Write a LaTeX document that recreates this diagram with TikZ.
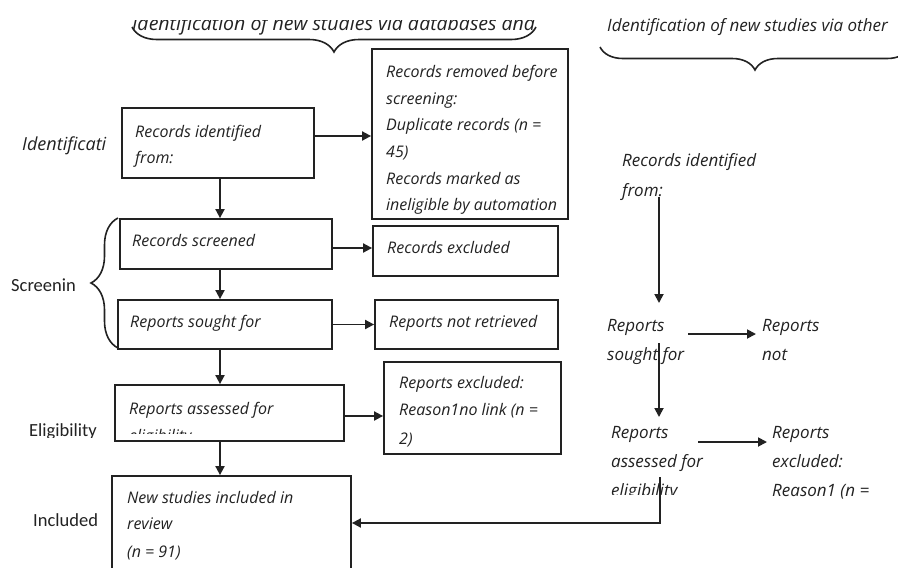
\documentclass[tikz,border=0pt]{standalone}
\usepackage{fontspec}
\usetikzlibrary{arrows.meta,decorations.pathreplacing,calc}
\newfontfamily\hand{Open Sans}
\newfontfamily\labfont{Carlito}
\definecolor{ink}{HTML}{222222}
\begin{document}
\begin{tikzpicture}[x=1pt,y=-1pt,
  box/.style={draw=ink,line width=1.8pt,inner sep=0pt},
  arr/.style={draw=ink,line width=1.8pt,-{Triangle[length=9pt,width=9pt]}},
  txt/.style={anchor=base west,inner sep=0pt,text=ink,font=\hand\itshape\fontsize{16}{18}\selectfont},
  rtxt/.style={anchor=base west,inner sep=0pt,text=ink,font=\hand\itshape\fontsize{17}{19}\selectfont},
  lab/.style={anchor=base west,inner sep=0pt,text=ink,font=\labfont\fontsize{18.5}{20}\selectfont},
  brc/.style={draw=ink,line width=1.6pt,decorate}]
\useasboundingbox[fill=white] (0,0) rectangle (898,568);

% titles and braces
\begin{scope}
\clip (0,20) rectangle (898,60);
\node[txt,font=\hand\itshape\fontsize{19.5}{21}\selectfont] (t1) at (132,30) {Identification of new studies via databases and};
\end{scope}
\draw[brc,decoration={brace,amplitude=25pt}] (536,27) -- (132,27);
\node[txt,font=\hand\itshape\fontsize{17}{19}\selectfont] (t2) at (607,31) {Identification of new studies via other};
\draw[brc,decoration={brace,amplitude=23pt}] (910,47) -- (600,47);

% left labels
\node[txt,font=\hand\itshape\fontsize{18}{20}\selectfont] (l1) at (22,150) {Identificati};
\node[lab] (l2) at (11,291) {Screenin};
\begin{scope}
\clip (0,400) rectangle (110,437);
\node[lab] (l3) at (29,436) {Eligibility};
\end{scope}
\node[lab] (l4) at (33,526) {Included};
\draw[brc,decoration={brace,amplitude=27pt}] (118,348) -- (118,218);

% boxes
\node[box,minimum width=192pt,minimum height=70pt] (b1) at (218,143) {};
\node[box,minimum width=196pt,minimum height=170pt] (rem) at (470,134) {};
\node[box,minimum width=212pt,minimum height=50pt] (scr) at (226,244) {};
\node[box,minimum width=185pt,minimum height=50pt] (rex) at (465.5,251) {};
\node[box,minimum width=214pt,minimum height=49pt] (sou) at (225,324.5) {};
\node[box,minimum width=183pt,minimum height=49pt] (nre) at (466.5,324.5) {};
\node[box,minimum width=229pt,minimum height=56pt] (ass) at (229.5,413) {};
\node[box,minimum width=177pt,minimum height=92pt] (exc) at (472.5,408) {};
\node[box,minimum width=239pt,minimum height=124pt] (inc) at (231.5,538) {};

% box texts
\node[txt] (b1a) at (135,137) {Records identified};
\node[txt] (b1b) at (135,163) {from:};
\begin{scope}
\clip (372,49) rectangle (568,214);
\node[txt] (rm1) at (386,77) {Records removed before};
\node[txt] (rm2) at (386,104) {screening:};
\node[txt] (rm3) at (386,130) {Duplicate records (n =};
\node[txt] (rm4) at (386,157) {45)};
\node[txt] (rm5) at (386,184) {Records marked as};
\node[txt] (rm6) at (386,210) {ineligible by automation};
\end{scope}
\node[txt] (sc1) at (132,246) {Records screened};
\node[txt] (rx1) at (387,253) {Records excluded};
\node[txt] (so1) at (130,327) {Reports sought for};
\node[txt] (nr1) at (389,327) {Reports not retrieved};
\node[txt] (as1) at (129,414) {Reports assessed for};
\begin{scope}
\clip (116,420) rectangle (343,433);
\node[txt] (as2) at (129,441) {eligibility};
\end{scope}
\node[txt] (ex1) at (399,388) {Reports excluded:};
\node[txt] (ex2) at (399,415) {Reason1no link (n =};
\node[txt] (ex3) at (399,444) {2)};
\node[txt] (in1) at (127,503) {New studies included in};
\node[txt] (in2) at (127,529) {review};
\node[txt] (in3) at (127,557) {(n = 91)};

% right column texts
\node[rtxt] (r1a) at (622,166) {Records identified};
\node[rtxt] (r1b) at (622,196) {from:};
\node[rtxt] (r2a) at (607,331) {Reports};
\node[rtxt] (r2b) at (607,360) {sought for};
\node[rtxt] (r3a) at (762,331) {Reports};
\node[rtxt] (r3b) at (762,360) {not};
\node[rtxt] (r4a) at (611,438) {Reports};
\node[rtxt] (r4b) at (611,467) {assessed for};
\begin{scope}
\clip (600,470) rectangle (760,494);
\node[rtxt] (r4c) at (611,496) {eligibility};
\end{scope}
\node[rtxt] (r5a) at (772,438) {Reports};
\node[rtxt] (r5b) at (772,467) {excluded:};
\node[rtxt] (r5c) at (772,496) {Reason1 (n =};

% left connectors
\draw[arr] ([yshift=7pt]b1.east) -- ([yshift=7pt]b1.east -| rem.west);
\draw[arr] ([yshift=-4pt]scr.east) -- ([yshift=-4pt]scr.east -| rex.west);
\draw[arr] (sou.east) -- (sou.east -| nre.west);
\draw[arr] ([yshift=-3pt]ass.east) -- ([yshift=-3pt]ass.east -| exc.west);
\coordinate (cx) at (220,0);
\draw[arr] (cx |- b1.south) -- (cx |- scr.north);
\draw[arr] (cx |- scr.south) -- (cx |- sou.north);
\draw[arr] (cx |- sou.south) -- (cx |- ass.north);
\draw[arr] (cx |- ass.south) -- (cx |- inc.north);

% right connectors
\coordinate (ra) at (659,197);
\coordinate (rb) at (659,303);
\coordinate (rc) at (688,334);
\coordinate (rd) at (756,334);
\coordinate (re) at (659,343);
\coordinate (rf) at (659,417);
\coordinate (rg) at (698,442);
\coordinate (rh) at (767,442);
\coordinate (ri) at (660,477);
\coordinate (rj) at (660,523);
\draw[arr] (ra) -- (rb);
\draw[arr] (rc) -- (rd);
\draw[arr] (re) -- (rf);
\draw[arr] (rg) -- (rh);
\draw[arr] (ri) -- (rj) -- (rj -| inc.east);
\end{tikzpicture}
\end{document}
